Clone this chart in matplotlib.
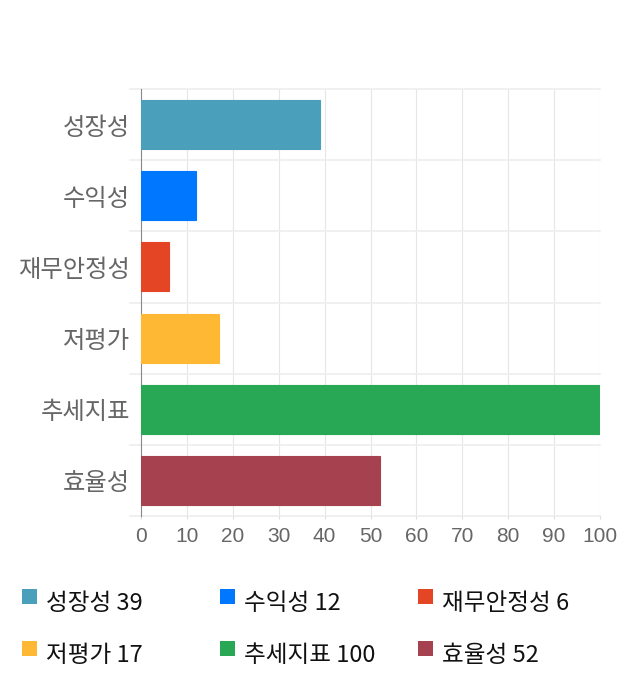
import matplotlib.pyplot as plt
from matplotlib.patches import Rectangle

plt.rcParams['font.family'] = ['Noto Sans CJK KR', 'DejaVu Sans']

# data
categories = ['성장성', '수익성', '재무안정성', '저평가', '추세지표', '효율성']
scores = [39, 12, 6, 17, 100, 52]
colors = ['#4aa0ba', '#0077ff', '#e34525', '#ffb833', '#28a755', '#a6414f']

fig = plt.figure(figsize=(6.4, 7.0), dpi=100)
ax = fig.add_axes([141 / 640, 1 - 516 / 700, 459 / 640, 427 / 700])

ypos = list(range(len(categories)))
ax.barh(ypos, scores, height=0.69, color=colors, edgecolor=colors, linewidth=0.8, zorder=3)

ax.set_xlim(0, 100)
ax.set_ylim(len(categories) - 0.5, -0.5)
ax.set_xticks(range(0, 101, 10))
ax.set_yticks(ypos)
ax.set_yticklabels(categories)
ax.tick_params(axis='y', length=0, pad=8, labelsize=17.5, labelcolor='#666666')
ax.tick_params(axis='x', length=2, color='#dddddd', pad=6, labelsize=15, labelcolor='#666666')
for lab in ax.get_xticklabels():
    lab.set_fontfamily(['Liberation Sans', 'DejaVu Sans'])
for lab in ax.get_yticklabels():
    lab.set_fontweight('light')

# grid
for x in range(10, 101, 10):
    ax.axvline(x, color='#e6e6e6', linewidth=0.8, zorder=1)
for i in range(len(categories) + 1):
    ax.axhline(i - 0.5, color='#eeeeee', linewidth=1.2, zorder=1, xmin=-0.024, clip_on=False)

for s in ['top', 'right', 'bottom']:
    ax.spines[s].set_visible(False)
ax.spines['left'].set_color('#888888')
ax.spines['left'].set_linewidth(0.8)

# legend
col_x = [22, 220, 418]
row_y = [603, 655]
for i, (cat, val, c) in enumerate(zip(categories, scores, colors)):
    px = col_x[i % 3]
    py = row_y[i // 3]
    fig.patches.append(Rectangle((px / 640, 1 - (py + 1) / 700), 15 / 640, 15 / 700,
                                 transform=fig.transFigure, facecolor=c, edgecolor='none'))
    fig.text((px + 24) / 640, 1 - py / 700, f'{cat} {val}', fontsize=17,
             color='#111111', va='center', ha='left')

fig.savefig('out.png', dpi=100)
